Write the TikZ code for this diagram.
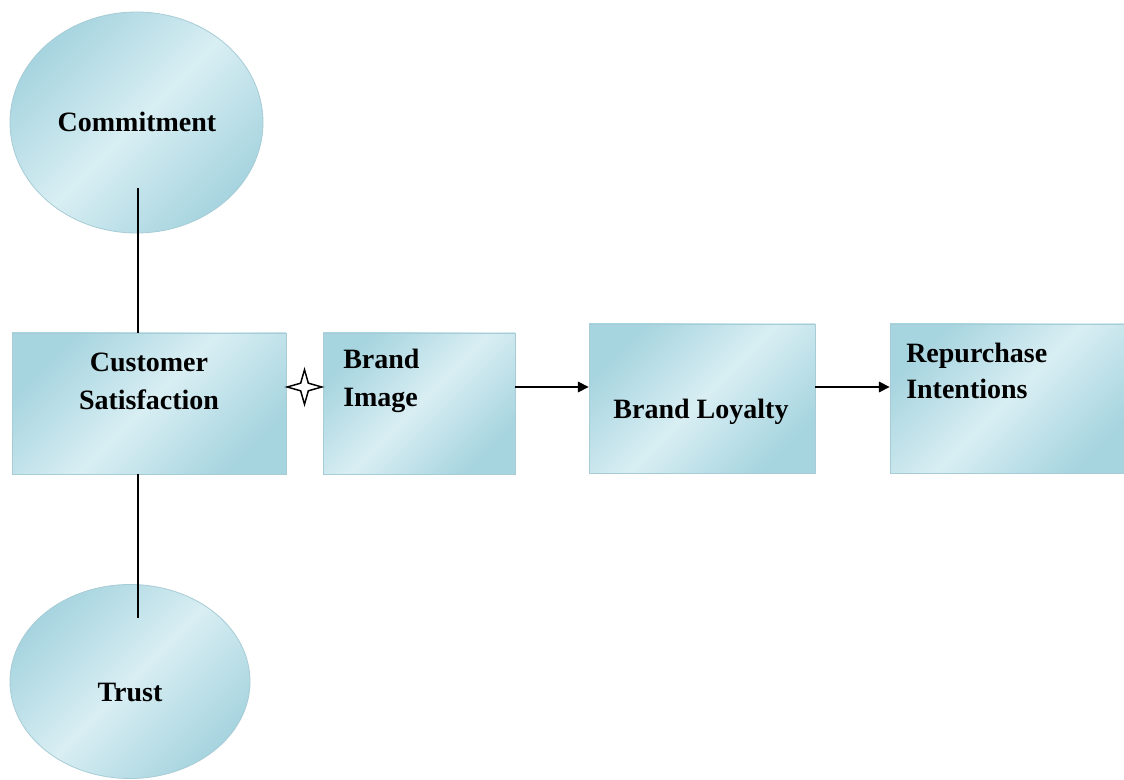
\documentclass[tikz,border=0pt]{standalone}
\usepackage{fontspec}
\setmainfont{Liberation Serif}
\usetikzlibrary{shapes.geometric,arrows.meta,shadows}
\definecolor{edgeblue}{HTML}{A6D4DF}
\definecolor{midblue}{HTML}{D8EEF3}
\definecolor{lineblue}{HTML}{A8CCD6}
\begin{document}
\begin{tikzpicture}[x=0.75pt,y=-0.75pt,
  font=\fontsize{21}{28.5}\selectfont\bfseries,
  glossy/.style={shading=axis, top color=edgeblue, bottom color=edgeblue, middle color=midblue, shading angle=45},
  ellip/.style={ellipse, glossy, draw=lineblue, line width=0.6pt, inner sep=0},
  boxn/.style={rectangle, glossy, draw=lineblue, line width=0.6pt, inner sep=0,
    drop shadow={shadow xshift=0.5pt, shadow yshift=-1pt, fill=gray!70, opacity=0.5}},
  txt/.style={inner sep=0, text=black},
  conn/.style={line width=0.9pt, black},
  arr/.style={conn, -{Triangle[length=8pt,width=8pt]}},
  starmark/.style={star, star points=4, star point ratio=3.2, draw, line width=1.1pt, fill=white, minimum size=26pt, inner sep=0}]
\useasboundingbox (0,0) rectangle (1124,780);
\clip (0,0) rectangle (1124,780);
\fill[white] (0,0) rectangle (1124,780);
% ellipses
\node[ellip, minimum width=189.75pt, minimum height=165.75pt] (cm) at (136.5,122.5) {};
\node[ellip, minimum width=180pt, minimum height=145.5pt] (tr) at (130,681.5) {};
% boxes
\node[boxn, minimum width=205.5pt, minimum height=105.75pt] (cs) at (149,403.5) {};
\node[boxn, minimum width=144pt, minimum height=105.75pt] (bi) at (419,403.5) {};
\node[boxn, minimum width=169.5pt, minimum height=111.75pt] (bl) at (702,398.5) {};
\node[boxn, minimum width=180pt, minimum height=111.75pt] (ri) at (1010,398.5) {};
% texts
\node[txt] (tcm) at (137,122) {Commitment};
\node[txt] (ttr) at (130,692) {Trust};
\node[txt, align=center] (tcs) at (149,381) {Customer\\Satisfaction};
\node[txt, align=left, anchor=west] (tbi) at (343,381) {Brand\\Image};
\node[txt] (tbl) at (701,411.7) {Brand Loyalty};
\node[txt, align=left, anchor=west, font=\fontsize{21}{27.5}\selectfont\bfseries] (tri) at (906,371) {Repurchase\\Intentions};
% connectors
\coordinate (c1) at (138,188);
\coordinate (t1) at (138,618);
\draw[conn] (c1) -- (c1 |- cs.north);
\draw[conn] (cs.south -| t1) -- (t1);
\node[starmark] (st) at (304.5,387) {};
\draw[arr] (bi.east |- st) -- (bl.west |- st);
\draw[arr] (bl.east |- st) -- (ri.west |- st);
\end{tikzpicture}
\end{document}
